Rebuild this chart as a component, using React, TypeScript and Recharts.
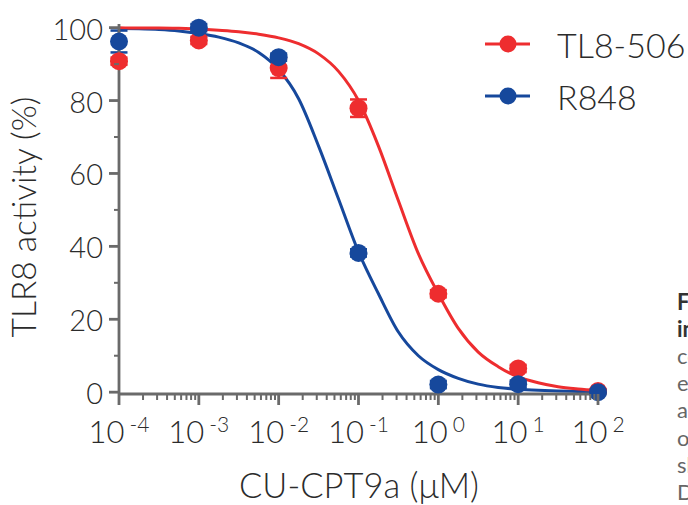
import React from 'react';
import { ComposedChart, Line, Scatter, XAxis, YAxis, ErrorBar, Legend, Customized } from 'recharts';

// ---- data ----
const concentrations = [1e-4, 1e-3, 1e-2, 1e-1, 1, 10, 100];
const tl8Mean = [90.8, 96.5, 88.9, 77.9, 27.0, 6.5, 0.3];
const tl8Err = [1, 1, 2.7, 2.4, 1, 1, 0.5];
const r848Mean = [96.2, 100, 91.9, 38.2, 2.1, 2.2, 0];
const r848Err = [3, 1, 1, 1, 1, 1, 0.5];

// fitted curves, sampled every quarter decade (log10 of µM)
const fitExponents = [-4, -3.75, -3.5, -3.25, -3, -2.75, -2.5, -2.25, -2, -1.75, -1.5, -1.25, -1, -0.75, -0.5, -0.25, 0, 0.25, 0.5, 0.75, 1, 1.25, 1.5, 1.75, 2];
const tl8Fit = [100, 99.9, 99.9, 99.8, 99.6, 99.3, 98.9, 98.2, 97.2, 95.6, 92.8, 88, 80, 67.5, 52.5, 38, 27, 17.5, 11, 7, 4.2, 2.6, 1.5, 0.9, 0.5];
const r848Fit = [99.8, 99.7, 99.5, 99.1, 98.4, 97.4, 95.8, 93.2, 88.5, 80.5, 67.5, 53, 38.5, 27, 16.5, 10, 6.2, 3.8, 2.2, 1.3, 0.8, 0.5, 0.3, 0.2, 0.1];

const xTickExponents = [-4, -3, -2, -1, 0, 1, 2];
const minorMultipliers = [2, 3, 4, 5, 6, 7, 8, 9];
const yTicks = [0, 10, 20, 30, 40, 50, 60, 70, 80, 90, 100];
const yLabelTicks = [0, 20, 40, 60, 80, 100];

const seriesNames = ['TL8-506', 'R848'];
const xAxisTitle = 'CU-CPT9a (μM)';
const yAxisTitle = 'TLR8 activity (%)';
const captionLines = ['Figure 3:', 'inhibition of TLR8', 'cells were', 'expressing', 'agonist', 'of CU-CPT9a', 'shown', 'Data'];

// ---- styles ----
const RED = '#ee2d2f';
const BLUE = '#16489c';
const AXIS = '#6a6a6a';
const TEXT = '#2b2b2b';
const FONT = 'Lato, "Open Sans", sans-serif';

const tl8Points = concentrations.map((x, i) => ({ x, y: tl8Mean[i], err: tl8Err[i] }));
const r848Points = concentrations.map((x, i) => ({ x, y: r848Mean[i], err: r848Err[i] }));
const tl8Curve = fitExponents.map((e, i) => ({ x: Math.pow(10, e), y: tl8Fit[i] }));
const r848Curve = fitExponents.map((e, i) => ({ x: Math.pow(10, e), y: r848Fit[i] }));

const xTicks: number[] = [];
xTickExponents.forEach((e, idx) => {
  xTicks.push(Math.pow(10, e));
  if (idx < xTickExponents.length - 1) {
    minorMultipliers.forEach((m) => xTicks.push(m * Math.pow(10, e)));
  }
});

const XTick = (props: any) => {
  const { x, y, payload } = props;
  const lg = Math.log10(payload.value);
  const exp = Math.round(lg);
  const isMajor = Math.abs(lg - exp) < 1e-6;
  return (
    <g>
      <line x1={x} x2={x} y1={y} y2={y + (isMajor ? 11 : 6)} stroke={AXIS} strokeWidth={isMajor ? 2.8 : 2} />
      {isMajor && (
        <text x={x} y={y + 49} textAnchor="middle" fill={TEXT} fontFamily={FONT} fontWeight={300} fontSize={31}>
          <tspan>10</tspan>
          <tspan dx={5} dy={-11} fontSize={21}>{String(exp)}</tspan>
        </text>
      )}
    </g>
  );
};

const YTick = (props: any) => {
  const { x, y, payload } = props;
  const v = payload.value;
  const isMajor = yLabelTicks.includes(v);
  return (
    <g>
      <line x1={x - (isMajor ? 10 : 5)} x2={x} y1={y} y2={y} stroke={AXIS} strokeWidth={isMajor ? 2.8 : 2} />
      {isMajor && (
        <text x={x - 16} y={y + 12} textAnchor="end" fill={TEXT} fontFamily={FONT} fontWeight={300} fontSize={29}>
          {String(v)}
        </text>
      )}
    </g>
  );
};

const LegendContent = () => (
  <svg width={210} height={100} style={{ overflow: 'visible' }}>
    {[RED, BLUE].map((c, i) => (
      <g key={i} transform={`translate(0, ${i * 52})`}>
        <line x1={5} x2={50} y1={24} y2={24} stroke={c} strokeWidth={3} />
        <circle cx={28} cy={24} r={8.5} fill={c} />
        <text x={77} y={38} fill={TEXT} fontFamily={FONT} fontWeight={300} fontSize={34}>
          {seriesNames[i]}
        </text>
      </g>
    ))}
  </svg>
);

const Titles = () => (
  <g>
    <text x={359} y={498} textAnchor="middle" fill={TEXT} fontFamily={FONT} fontWeight={300} fontSize={34.5}>
      {xAxisTitle}
    </text>
    <text
      x={36}
      y={217}
      transform="rotate(-90, 36, 217)"
      textAnchor="middle"
      fill={TEXT}
      fontFamily={FONT}
      fontWeight={300}
      fontSize={33.5}
    >
      {yAxisTitle}
    </text>
    {captionLines.map((t, i) => (
      <text
        key={i}
        x={677}
        y={310 + i * 27.1}
        fill={i < 2 ? '#333' : '#666'}
        fontFamily={FONT}
        fontWeight={i < 2 ? 700 : 400}
        fontSize={22}
      >
        {t}
      </text>
    ))}
  </g>
);

const dotShape = (color: string) => (p: any) => <circle cx={p.cx} cy={p.cy} r={9} fill={color} />;

export default function App() {
  return (
    <div style={{ position: 'absolute', left: 0, top: 0, width: 688, height: 505, overflow: 'hidden', background: '#fff' }}>
      <ComposedChart width={688} height={505} margin={{ top: 24, right: 90, bottom: 51, left: 59 }}>
        <XAxis
          type="number"
          dataKey="x"
          scale="log"
          domain={[1e-4, 100]}
          ticks={xTicks}
          interval={0}
          tick={<XTick />}
          tickLine={false}
          tickSize={0}
          tickMargin={0}
          height={60}
          axisLine={{ stroke: AXIS, strokeWidth: 2.8 }}
        />
        <YAxis
          type="number"
          dataKey="y"
          domain={[0, 100]}
          ticks={yTicks}
          interval={0}
          tick={<YTick />}
          tickLine={false}
          tickSize={0}
          tickMargin={0}
          width={60}
          axisLine={{ stroke: AXIS, strokeWidth: 2.8 }}
        />
        <Legend
          layout="vertical"
          align="center"
          verticalAlign="middle"
          wrapperStyle={{ position: 'absolute', left: 480, top: 20, width: 210, height: 100 }}
          content={<LegendContent />}
        />
        <Line data={r848Curve} dataKey="y" type="monotone" stroke={BLUE} strokeWidth={3} dot={false} activeDot={false} isAnimationActive={false} />
        <Line data={tl8Curve} dataKey="y" type="monotone" stroke={RED} strokeWidth={3} dot={false} activeDot={false} isAnimationActive={false} />
        <Scatter data={tl8Points} dataKey="y" fill={RED} shape={dotShape(RED)} isAnimationActive={false}>
          <ErrorBar dataKey="err" direction="y" width={8.5} stroke={RED} strokeWidth={2.5} />
        </Scatter>
        <Scatter data={r848Points} dataKey="y" fill={BLUE} shape={dotShape(BLUE)} isAnimationActive={false}>
          <ErrorBar dataKey="err" direction="y" width={8.5} stroke={BLUE} strokeWidth={2.5} />
        </Scatter>
        <Customized component={<Titles />} />
      </ComposedChart>
    </div>
  );
}
